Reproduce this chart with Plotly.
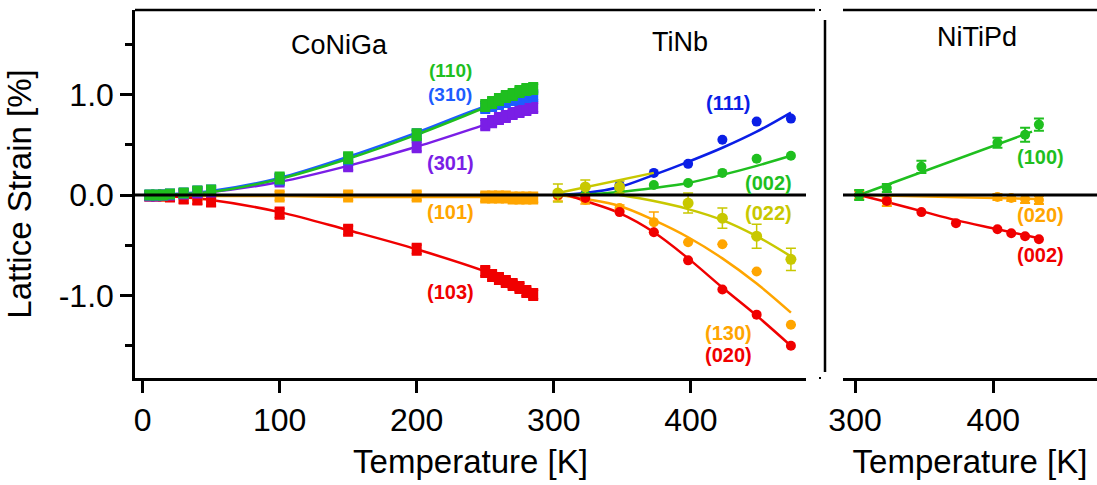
import plotly.graph_objects as go

# ---------------- data ----------------
# CoNiGa (left panel, squares)
coniga_T = [5, 10, 15, 20, 30, 40, 50, 100, 150, 200, 250, 255, 260, 265, 270, 275, 280, 285]
coniga_110 = [0, 0, 0, 0.01, 0.02, 0.04, 0.05, 0.17, 0.37, 0.60, 0.89, 0.92, 0.95, 0.98, 1.00, 1.03, 1.05, 1.06]
coniga_310 = [0, 0, 0, 0.01, 0.02, 0.04, 0.05, 0.16, 0.36, 0.60, 0.87, 0.89, 0.91, 0.93, 0.95, 0.96, 0.98, 0.99]
coniga_301 = [-0.01, -0.01, 0, 0, 0.01, 0.02, 0.03, 0.14, 0.29, 0.48, 0.70, 0.73, 0.76, 0.78, 0.81, 0.83, 0.85, 0.87]
coniga_101 = [-0.01, -0.01, -0.01, -0.01, -0.01, -0.01, -0.01, -0.01, -0.01, -0.01, -0.02, -0.02, -0.02, -0.02, -0.03, -0.03, -0.03, -0.03]
coniga_103 = [-0.01, -0.01, -0.01, -0.02, -0.04, -0.05, -0.07, -0.18, -0.35, -0.54, -0.76, -0.80, -0.83, -0.86, -0.89, -0.92, -0.96, -0.99]
coniga_err = [0.04, 0.04, 0.04, 0.04, 0.04, 0.04, 0.04, 0.05, 0.05, 0.05, 0.05, 0.05, 0.05, 0.05, 0.05, 0.05, 0.05, 0.05]

coniga_fit_T = [5, 50, 100, 150, 200, 250, 285]
coniga_fit_110 = [0, 0.03, 0.16, 0.36, 0.60, 0.87, 1.06]
coniga_fit_310 = [0, 0.04, 0.17, 0.38, 0.62, 0.88, 1.01]
coniga_fit_301 = [0, 0.03, 0.13, 0.29, 0.48, 0.70, 0.86]
coniga_fit_101 = [-0.01, -0.01, -0.01, -0.02, -0.02, -0.02, -0.02]
coniga_fit_103 = [0, -0.05, -0.17, -0.35, -0.54, -0.76, -0.95]

# TiNb (left panel, circles)
tinb_T = [303, 323, 348, 373, 398, 423, 448, 473]
tinb_111 = [0.0, 0.01, 0.10, 0.22, 0.31, 0.55, 0.73, 0.76]
tinb_002 = [0.0, 0.0, 0.04, 0.10, 0.12, 0.22, 0.36, 0.39]
tinb_022 = [0.02, 0.08, 0.08, None, -0.08, -0.23, -0.41, -0.64]
tinb_022_err = [0.09, 0.07, 0.06, 0, 0.10, 0.10, 0.12, 0.11]
tinb_130 = [-0.01, -0.05, -0.13, -0.27, -0.47, -0.49, -0.76, -1.29]
tinb_130_err = [0.05, 0.04, 0.03, 0.10, 0, 0, 0, 0]
tinb_020 = [0.0, -0.03, -0.17, -0.37, -0.65, -0.94, -1.19, -1.50]

tinb_fit_111 = [0, 0.02, 0.08, 0.20, 0.33, 0.47, 0.63, 0.82]
tinb_fit_002 = [0, 0.005, 0.03, 0.07, 0.12, 0.20, 0.29, 0.39]
tinb_fit_022_T = [348, 373, 398, 423, 448, 473]
tinb_fit_022 = [0, -0.06, -0.14, -0.25, -0.41, -0.61]
tinb_rise_T = [303, 373]
tinb_rise = [0.02, 0.22]
tinb_fit_130 = [0, -0.04, -0.11, -0.25, -0.42, -0.63, -0.88, -1.17]
tinb_fit_020_T = [310, 323, 348, 373, 398, 423, 448, 473]
tinb_fit_020 = [0, -0.06, -0.18, -0.37, -0.63, -0.92, -1.20, -1.50]

# NiTiPd (right panel, circles)
nitipd_100_T = [303, 323, 348, 403, 423, 433]
nitipd_100 = [0.0, 0.07, 0.28, 0.52, 0.60, 0.70]
nitipd_100_err = [0.05, 0.04, 0.06, 0.05, 0.07, 0.06]
nitipd_020_T = [303, 323, 403, 413, 423, 433]
nitipd_020 = [0.0, -0.07, -0.02, -0.03, -0.04, -0.05]
nitipd_020_err = [0.04, 0.04, 0.03, 0.03, 0.04, 0.04]
nitipd_002_T = [303, 323, 348, 373, 403, 413, 423, 433]
nitipd_002 = [0.0, -0.06, -0.17, -0.28, -0.34, -0.38, -0.41, -0.44]

nitipd_fit_100_T = [303, 428]
nitipd_fit_100 = [0.0, 0.63]
nitipd_fit_020_T = [303, 433]
nitipd_fit_020 = [0.0, -0.04]
nitipd_fit_002_T = [303, 323, 348, 373, 403, 433]
nitipd_fit_002 = [0.0, -0.07, -0.16, -0.25, -0.34, -0.43]

# ---------------- style ----------------
GREEN = "#1fbf1f"
BLUE_C = "#1e5cff"
BLUE_T = "#0a1ee6"
PURPLE = "#7a1ee6"
ORANGE = "#ffa500"
RED = "#f00000"
YELLOW = "#c8c800"
FONT = "Arial, Liberation Sans, sans-serif"

fig = go.Figure()


def line(x, y, color, xaxis="x", width=2.5):
    fig.add_trace(go.Scatter(x=x, y=y, mode="lines", line=dict(color=color, width=width, shape="spline"),
                             xaxis=xaxis, yaxis="y", showlegend=False, hoverinfo="skip"))


def pts(x, y, color, symbol="circle", size=9, err=None, xaxis="x", ethick=1.5, ewidth=5):
    kw = {}
    if err is not None:
        kw["error_y"] = dict(type="data", array=err, visible=True, color=color, thickness=ethick, width=ewidth)
    fig.add_trace(go.Scatter(x=x, y=y, mode="markers", marker=dict(color=color, size=size, symbol=symbol),
                             xaxis=xaxis, yaxis="y", showlegend=False, **kw))


# CoNiGa
for fy, c in [(coniga_fit_101, ORANGE), (coniga_fit_103, RED), (coniga_fit_301, PURPLE),
              (coniga_fit_310, BLUE_C), (coniga_fit_110, GREEN)]:
    line(coniga_fit_T, fy, c)
for yy, c in [(coniga_101, ORANGE), (coniga_103, RED), (coniga_301, PURPLE),
              (coniga_310, BLUE_C), (coniga_110, GREEN)]:
    pts(coniga_T, yy, c, symbol="square", size=10, err=coniga_err, ethick=3, ewidth=5)

# TiNb
line(tinb_T, tinb_fit_111, BLUE_T)
line(tinb_T, tinb_fit_002, GREEN)
line(tinb_fit_022_T, tinb_fit_022, YELLOW)
line(tinb_T, tinb_fit_130, ORANGE)
line(tinb_fit_020_T, tinb_fit_020, RED)
pts(tinb_T, tinb_111, BLUE_T, size=10)
pts(tinb_T, tinb_002, GREEN, size=10)
pts(tinb_T, tinb_130, ORANGE, err=tinb_130_err, size=10)
pts(tinb_T, tinb_020, RED, size=10)
pts(tinb_T, tinb_022, YELLOW, err=tinb_022_err, size=11)
line(tinb_rise_T, tinb_rise, YELLOW)

# NiTiPd
line(nitipd_fit_100_T, nitipd_fit_100, GREEN, xaxis="x2")
line(nitipd_fit_020_T, nitipd_fit_020, ORANGE, xaxis="x2")
line(nitipd_fit_002_T, nitipd_fit_002, RED, xaxis="x2")
pts(nitipd_020_T, nitipd_020, ORANGE, err=nitipd_020_err, xaxis="x2", size=10, ethick=2)
pts(nitipd_002_T, nitipd_002, RED, xaxis="x2", size=10)
pts(nitipd_100_T, nitipd_100, GREEN, err=nitipd_100_err, xaxis="x2", size=10, ethick=2)

# ---------------- layout ----------------
W, H = 1097, 485
L, R, T, B = 135, 0, 10, 107
PW, PH = W - L - R, H - T - B


def px(xp):
    return (xp - L) / PW


def py(yp):
    return (H - B - yp) / PH


axis_common = dict(showgrid=False, zeroline=False, showline=True, linecolor="black", linewidth=2.5,
                   ticks="outside", ticklen=12, tickwidth=2.5, tickcolor="black", automargin=False,
                   tickfont=dict(family=FONT, size=32, color="black"))

fig.update_layout(
    width=W, height=H, margin=dict(l=L, r=R, t=T, b=B, pad=0, autoexpand=False),
    paper_bgcolor="white", plot_bgcolor="white", showlegend=False,
    font=dict(family=FONT, color="black"),
    xaxis=dict(domain=[0, px(806)], range=[-5.5, 484], tickvals=[0, 100, 200, 300, 400],
               anchor="y",
               title=dict(text="Temperature [K]", font=dict(family=FONT, size=33), standoff=13),
               **axis_common),
    xaxis2=dict(domain=[px(843), 1], range=[291.3, 475], tickvals=[300, 400], anchor="y",
                title=dict(text="Temperature [K]", font=dict(family=FONT, size=33), standoff=13),
                **axis_common),
    yaxis=dict(range=[-1.82, 1.84], tickvals=[-1, 0, 1], ticktext=["-1.0", "0.0", "1.0"],
               anchor="x",
               minor=dict(tickvals=[-1.5, -0.5, 0.5, 1.5], ticks="outside", ticklen=7,
                          tickwidth=2.5, tickcolor="black"),
               title=dict(text="Lattice Strain [%]", font=dict(family=FONT, size=33), standoff=18),
               **axis_common),
)

shapes = []
# zero lines
shapes.append(dict(type="line", xref="x domain", yref="y", x0=0, x1=1, y0=0, y1=0,
                   line=dict(color="black", width=3), layer="above"))
shapes.append(dict(type="line", xref="x2 domain", yref="y", x0=0, x1=1, y0=0, y1=0,
                   line=dict(color="black", width=3), layer="above"))
# top borders
shapes.append(dict(type="line", xref="paper", yref="paper", x0=0, x1=px(815), y0=1, y1=1,
                   line=dict(color="black", width=2.5)))
shapes.append(dict(type="line", xref="paper", yref="paper", x0=px(843), x1=1, y0=1, y1=1,
                   line=dict(color="black", width=2.5)))
# small break marks
for yy in (1, 0):
    shapes.append(dict(type="line", xref="paper", yref="paper", x0=px(819), x1=px(821), y0=yy, y1=yy,
                       line=dict(color="black", width=2)))
# vertical separator
shapes.append(dict(type="line", xref="paper", yref="paper", x0=px(825), x1=px(825), y0=py(20), y1=py(372),
                   line=dict(color="black", width=2.5)))
fig.update_layout(shapes=shapes)

ann = []


def label(text, x, y, color, xref="x", size=20, bold=True):
    ann.append(dict(text=f"<b>{text}</b>" if bold else text, x=x, y=y, xref=xref, yref="y",
                    showarrow=False, font=dict(family=FONT, size=size, color=color),
                    xanchor="center", yanchor="middle"))


label("CoNiGa", 144, 1.49, "black", size=27, bold=False)
label("TiNb", 392, 1.52, "black", size=27, bold=False)
label("NiTiPd", 388, 1.57, "black", xref="x2", size=27, bold=False)

label("(110)", 224.5, 1.235, GREEN, size=19)
label("(310)", 224.5, 1.0, BLUE_C, size=19)
label("(301)", 224.5, 0.32, PURPLE)
label("(101)", 224.5, -0.17, ORANGE)
label("(103)", 224.5, -0.965, RED)

label("(111)", 427.4, 0.915, BLUE_T)
label("(002)", 456.6, 0.12, GREEN)
label("(022)", 456.6, -0.18, YELLOW)
label("(130)", 427.4, -1.37, ORANGE)
label("(020)", 427.4, -1.59, RED)

label("(100)", 434, 0.38, GREEN, xref="x2")
label("(020)", 434, -0.20, ORANGE, xref="x2")
label("(002)", 434, -0.60, RED, xref="x2")
fig.update_layout(annotations=ann)

fig.write_html("out.html", config={"displayModeBar": False},
               post_script="document.body.style.margin='0px';")
